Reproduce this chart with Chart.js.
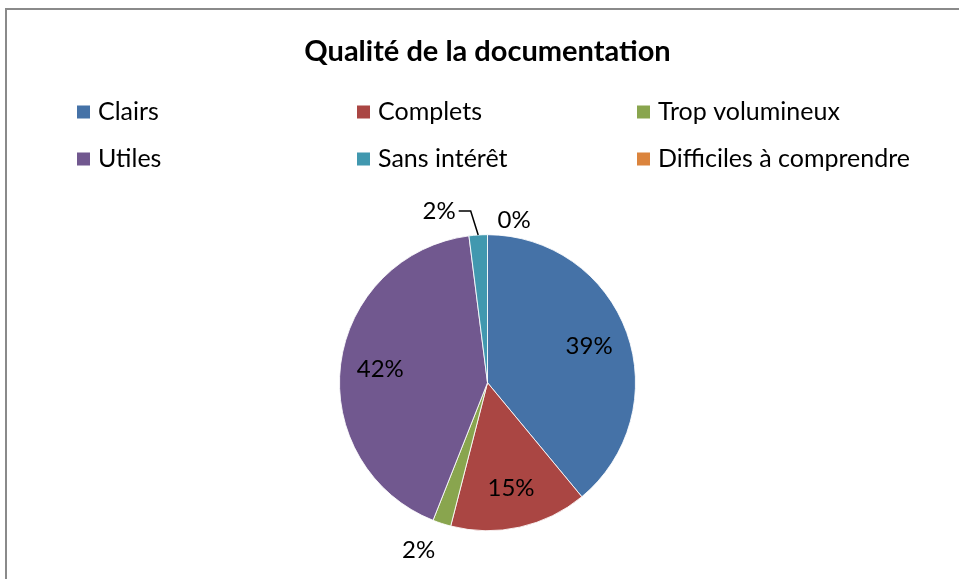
<!DOCTYPE html>
<html lang="fr">
<head>
<meta charset="utf-8">
<title>Qualité de la documentation</title>
<script src="https://cdn.jsdelivr.net/npm/chart.js@4.4.1/dist/chart.umd.min.js"></script>
<style>
  html, body { margin: 0; padding: 0; background: #fff; overflow: hidden; }
  #cadre { position: absolute; left: 5px; top: 8px; width: 1200px; height: 800px; border: 2px solid #8a8a8a; }
  #zone { position: absolute; left: 0; top: 0; width: 959px; height: 579px; }
</style>
</head>
<body>
<div id="cadre"></div>
<div id="zone"><canvas id="camembert" width="959" height="579"></canvas></div>
<script>
"use strict";

//Données (en pourcentage).
const categories = ['Clairs', 'Complets', 'Trop volumineux', 'Utiles', 'Sans intérêt', 'Difficiles à comprendre'];
const valeurs = [39, 15, 2, 42, 2, 0];
const couleurs = ['#4572A7', '#AA4643', '#89A54E', '#71588F', '#4198AF', '#DB843D'];

//Où placer chaque étiquette : dans la part, hors de la part, ou hors avec un trait de renvoi.
const placement = ['dedans', 'dedans', 'dehors', 'dedans', 'renvoi', 'dehors'];

//Légende en trois colonnes, comme dans Excel.
const legendeColonnes = [77, 357, 637];
const legendeLignes = [112, 159];

Chart.defaults.font.family = 'Lato';

//Dessine la légende sur le canvas.
const legendePlugin = {
    id: 'legendeGrille',
    afterDraw(chart) {
        const ctx = chart.ctx;
        ctx.save();
        ctx.font = '25px Lato';
        ctx.textBaseline = 'middle';
        ctx.textAlign = 'left';
        chart.data.labels.forEach((label, i) => {
            const x = legendeColonnes[i % 3];
            const y = legendeLignes[Math.floor(i / 3)];
            ctx.fillStyle = couleurs[i];
            ctx.fillRect(x, y - 6.5, 13, 13);
            ctx.fillStyle = '#000';
            ctx.fillText(label, x + 21, y);
        });
        ctx.restore();
    }
};

//Dessine les pourcentages sur ou autour des parts.
const etiquettesPlugin = {
    id: 'etiquettes',
    afterDatasetsDraw(chart) {
        const ctx = chart.ctx;
        const meta = chart.getDatasetMeta(0);
        const total = valeurs.reduce((a, b) => a + b, 0);
        ctx.save();
        ctx.font = '24px Lato';
        ctx.fillStyle = '#000';
        ctx.strokeStyle = '#000';
        ctx.lineWidth = 1.5;
        ctx.textBaseline = 'middle';
        meta.data.forEach((arc, i) => {
            const p = arc.getProps(['x', 'y', 'startAngle', 'endAngle', 'outerRadius']);
            const a = (p.startAngle + p.endAngle) / 2;
            const cos = Math.cos(a);
            const sin = Math.sin(a);
            const r = p.outerRadius;
            const texte = Math.round(valeurs[i] / total * 100) + '%';

            if (placement[i] === 'dedans') {
                ctx.textAlign = 'center';
                ctx.fillText(texte, p.x + cos * r * 0.73, p.y + sin * r * 0.73);
            } else if (placement[i] === 'dehors') {
                const d = r + (sin > 0 ? 28 : 14);
                const ax = p.x + cos * d;
                const ay = p.y + sin * d;
                if (cos < -0.05) {
                    ctx.textAlign = 'right';
                    ctx.fillText(texte, ax + 2, ay);
                } else {
                    ctx.textAlign = 'left';
                    ctx.fillText(texte, ax + 10, ay);
                }
            } else {
                //Trait de renvoi vers la part.
                const x1 = p.x + cos * r;
                const y1 = p.y + sin * r;
                const x2 = p.x + cos * (r + 24) - 6;
                const y2 = p.y + sin * (r + 24);
                const x3 = x2 - 12;
                ctx.beginPath();
                ctx.moveTo(x1, y1);
                ctx.lineTo(x2, y2);
                ctx.lineTo(x3, y2);
                ctx.stroke();
                ctx.textAlign = 'right';
                ctx.fillText(texte, x3 - 3, y2);
            }
        });
        ctx.restore();
    }
};

function createPieChart() {
    const ctx = document.getElementById('camembert');

    new Chart(ctx, {
        type: 'pie',
        data: {
            labels: categories,
            datasets: [{
                data: valeurs,
                backgroundColor: couleurs,
                borderColor: 'rgba(255, 255, 255, 0.85)',
                borderWidth: 1,
                hoverOffset: 0
            }]
        },
        options: {
            responsive: false,
            animation: false,
            radius: 148,
            layout: {
                padding: { left: 16, right: 0, top: 0, bottom: 13 }
            },
            plugins: {
                title: {
                    display: true,
                    text: 'Qualité de la documentation',
                    color: '#000',
                    font: { family: 'Lato', size: 29, weight: 'bold' },
                    padding: { top: 34.6, bottom: 130 }
                },
                legend: { display: false },
                tooltip: { enabled: false }
            }
        },
        plugins: [etiquettesPlugin, legendePlugin]
    });
}

createPieChart();
</script>
</body>
</html>
